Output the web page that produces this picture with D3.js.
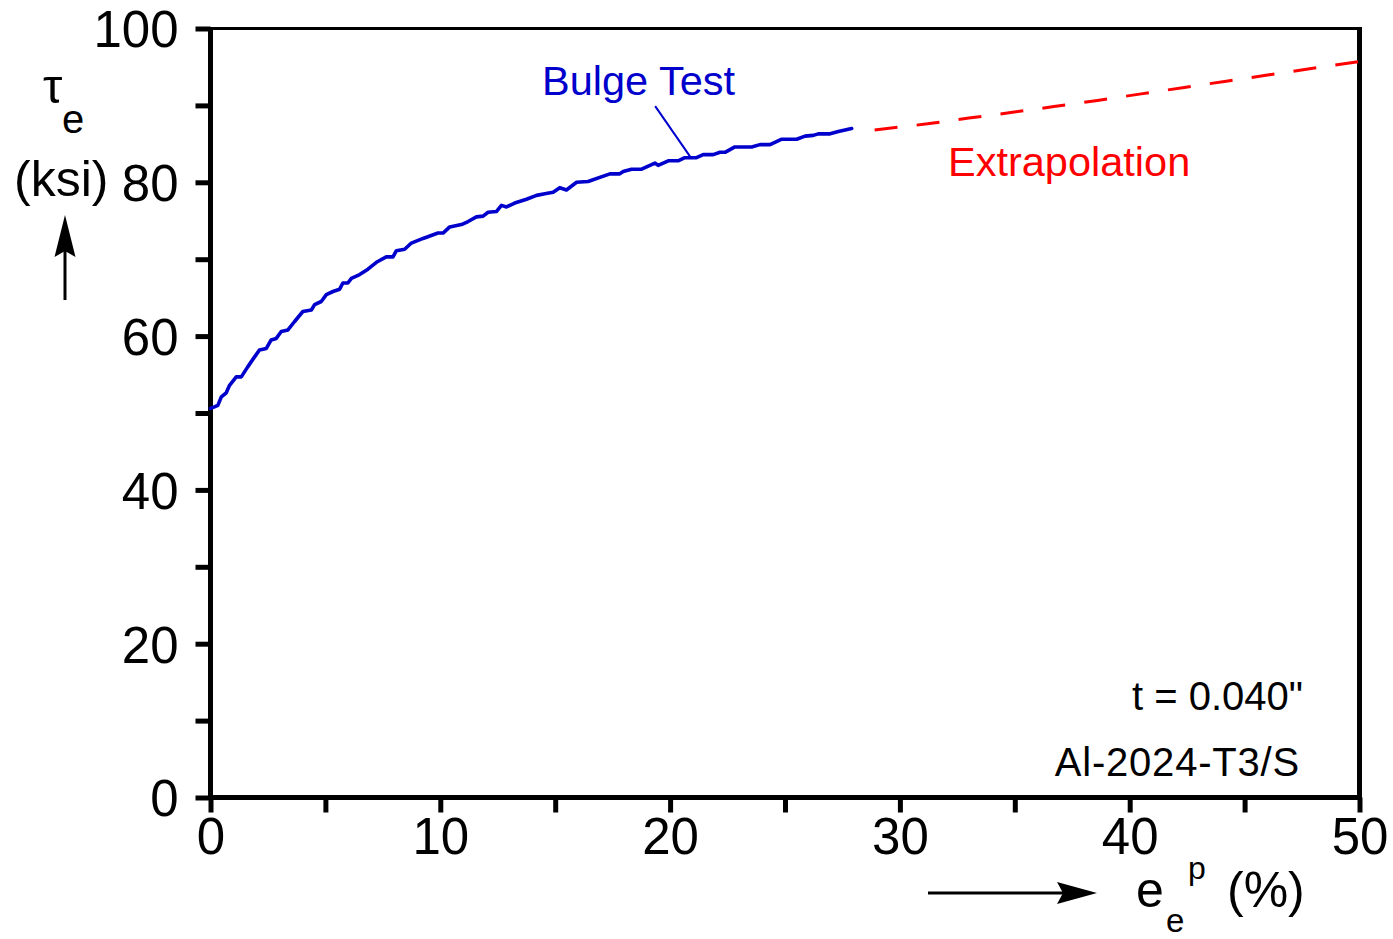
<!DOCTYPE html>
<html>
<head>
<meta charset="utf-8">
<script src="https://cdn.jsdelivr.net/npm/d3@7"></script>
<style>
  html, body { margin: 0; padding: 0; background: #fff; }
  svg { display: block; font-family: "Liberation Sans", Arial, sans-serif; }
</style>
</head>
<body>
<svg id="chart" width="1393" height="939"></svg>
<script>
// Effective plastic strain (%) vs effective stress (ksi), Al-2024-T3 bulge test
const bulgeStrain = [0, 0.17, 0.32, 0.47, 0.68, 0.83, 1.12, 1.34, 1.62, 1.92, 2.13, 2.43, 2.64, 2.86, 3.08, 3.37,
  3.66, 4.02, 4.39, 4.53, 4.82, 5.04, 5.33, 5.62, 5.76, 5.98, 6.13, 6.49, 6.85, 7.22, 7.65, 7.94, 8.09, 8.45,
  8.74, 9.25, 9.90, 10.12, 10.41, 10.92, 11.21, 11.57, 11.86, 12.08, 12.44, 12.66, 12.88, 13.24, 13.75, 14.19,
  14.55, 14.91, 15.20, 15.49, 15.93, 16.43, 17.38, 17.81, 17.96, 18.32, 18.76, 19.34, 19.48, 19.92, 20.35,
  20.64, 21.15, 21.44, 21.88, 22.17, 22.39, 22.82, 23.55, 23.91, 24.35, 24.86, 25.51, 25.87, 26.23, 26.45,
  26.96, 27.32, 27.61, 27.90];
const bulgeStress = [50.6, 50.8, 51.0, 52.1, 52.6, 53.6, 54.7, 54.7, 56.0, 57.3, 58.2, 58.4, 59.5, 59.7, 60.6, 60.8,
  61.9, 63.2, 63.4, 64.1, 64.5, 65.4, 65.8, 66.1, 66.9, 66.9, 67.5, 68.0, 68.7, 69.6, 70.3, 70.3, 71.1, 71.3,
  72.1, 72.7, 73.4, 73.4, 74.2, 74.5, 74.9, 75.5, 75.6, 76.1, 76.2, 77.0, 76.8, 77.3, 77.8, 78.3,
  78.5, 78.7, 79.3, 79.0, 80.0, 80.1, 81.1, 81.1, 81.4, 81.7, 81.7, 82.5, 82.2, 82.8, 82.8,
  83.2, 83.2, 83.6, 83.6, 83.9, 83.9, 84.6, 84.6, 84.9, 84.9, 85.6, 85.6, 86.0, 86.1, 86.3,
  86.3, 86.6, 86.8, 87.0];

// Extrapolated curve beyond the test range
const extraStrain = [28.9, 31.2, 33.0, 34.9, 36.7, 38.6, 40.5, 42.3, 44.2, 46.0, 47.9, 50.0];
const extraStress = [86.8, 87.6, 88.35, 89.1, 89.85, 90.65, 91.5, 92.3, 93.15, 93.95, 94.8, 95.7];

const xTicks = [0, 10, 20, 30, 40, 50];
const xMinorTicks = [5, 15, 25, 35, 45];
const yTicks = [0, 20, 40, 60, 80, 100];
const yMinorTicks = [10, 30, 50, 70, 90];

// Leader from the "Bulge Test" label to the curve
const leaderStrain = [19.35, 20.88];
const leaderStress = [89.9, 83.3];

const svg = d3.select("#chart");
const plotLeft = 210.5, plotRight = 1359.5, plotTop = 28.5, plotBottom = 797.5;

const x = d3.scaleLinear().domain([0, 50]).range([plotLeft, plotRight]);
const y = d3.scaleLinear().domain([0, 100]).range([plotBottom, plotTop]);

const blue = "#0000cc", red = "#ff0000";
const fontFamily = "Liberation Sans, Arial, sans-serif";

// Axes: ticks point outward, labels only on major ticks
const yAxis = d3.axisLeft(y)
  .tickValues(yTicks.concat(yMinorTicks))
  .tickFormat(d => yTicks.includes(d) ? d : "")
  .tickSizeInner(15).tickSizeOuter(0).tickPadding(17);
const gy = svg.append("g").attr("transform", `translate(${plotLeft},0)`).call(yAxis);
gy.select(".domain").remove();
gy.selectAll(".tick line").attr("stroke", "#000").attr("stroke-width", 5);
gy.selectAll(".tick text").attr("font-size", 51).attr("dy", "0.36em")
  .attr("font-family", fontFamily).attr("fill", "#000");

const xAxis = d3.axisBottom(x)
  .tickValues(xTicks.concat(xMinorTicks))
  .tickFormat(d => xTicks.includes(d) ? d : "")
  .tickSizeInner(15).tickSizeOuter(0).tickPadding(5);
const gx = svg.append("g").attr("transform", `translate(0,${plotBottom})`).call(xAxis);
gx.select(".domain").remove();
gx.selectAll(".tick line").attr("stroke", "#000").attr("stroke-width", 5);
gx.selectAll(".tick text").attr("font-size", 51)
  .attr("font-family", fontFamily).attr("fill", "#000");

// Plot frame
const frame = svg.append("g").attr("stroke", "#000").attr("fill", "none");
frame.append("line").attr("x1", plotLeft - 2.5).attr("x2", plotRight + 2.5).attr("y1", plotTop).attr("y2", plotTop).attr("stroke-width", 3);
frame.append("line").attr("x1", plotLeft).attr("x2", plotLeft).attr("y1", plotTop - 1.5).attr("y2", plotBottom + 2.5).attr("stroke-width", 5);
frame.append("line").attr("x1", plotRight).attr("x2", plotRight).attr("y1", plotTop - 1.5).attr("y2", plotBottom + 2.5).attr("stroke-width", 5);
frame.append("line").attr("x1", plotLeft - 2.5).attr("x2", plotRight + 2.5).attr("y1", plotBottom).attr("y2", plotBottom).attr("stroke-width", 5);

// Curves
const line = d3.line().x(d => x(d[0])).y(d => y(d[1]));
const bulge = bulgeStrain.map((s, i) => [s, bulgeStress[i]]);
const extra = extraStrain.map((s, i) => [s, extraStress[i]]);

svg.append("path").datum(extra)
  .attr("d", line).attr("fill", "none").attr("stroke", red)
  .attr("stroke-width", 3).attr("stroke-dasharray", "23 19.3");

svg.append("path").datum(bulge)
  .attr("d", line).attr("fill", "none").attr("stroke", blue)
  .attr("stroke-width", 3.6).attr("stroke-linejoin", "round").attr("stroke-linecap", "round");

svg.append("path").datum(leaderStrain.map((s, i) => [s, leaderStress[i]]))
  .attr("d", line).attr("fill", "none").attr("stroke", blue).attr("stroke-width", 2);

// Annotations
svg.append("text").attr("x", 542).attr("y", 95).attr("font-size", 41.5).attr("fill", blue).text("Bulge Test");
svg.append("text").attr("x", 948).attr("y", 176).attr("font-size", 41.5).attr("fill", red).text("Extrapolation");
svg.append("text").attr("x", 1303).attr("y", 710).attr("font-size", 40)
  .attr("text-anchor", "end").attr("fill", "#000").text("t = 0.040\"");
svg.append("text").attr("x", 1300).attr("y", 776).attr("font-size", 40).attr("letter-spacing", 0.8)
  .attr("text-anchor", "end").attr("fill", "#000").text("Al-2024-T3/S");

// Y axis title: tau_e (ksi) with upward arrow
svg.append("text").attr("x", 43).attr("y", 103).attr("font-size", 49).attr("fill", "#000").text("τ");
svg.append("text").attr("x", 62).attr("y", 133).attr("font-size", 40).attr("fill", "#000").text("e");
svg.append("text").attr("x", 14).attr("y", 196).attr("font-size", 50).attr("fill", "#000").text("(ksi)");
svg.append("line").attr("x1", 65).attr("x2", 65).attr("y1", 300).attr("y2", 245)
  .attr("stroke", "#000").attr("stroke-width", 3);
svg.append("path").attr("d", "M65,215 L75.5,257 L65,251 L54.5,257 Z").attr("fill", "#000");

// X axis title: e_e^p (%) with rightward arrow
svg.append("line").attr("x1", 928).attr("x2", 1070).attr("y1", 893).attr("y2", 893)
  .attr("stroke", "#000").attr("stroke-width", 3);
svg.append("path").attr("d", "M1097,893 L1057,882 L1063,893 L1057,904 Z").attr("fill", "#000");
svg.append("text").attr("x", 1136).attr("y", 907).attr("font-size", 50).attr("fill", "#000").text("e");
svg.append("text").attr("x", 1166).attr("y", 932).attr("font-size", 33).attr("fill", "#000").text("e");
svg.append("text").attr("x", 1188).attr("y", 879).attr("font-size", 32).attr("fill", "#000").text("p");
svg.append("text").attr("x", 1227).attr("y", 907).attr("font-size", 50).attr("fill", "#000").text("(%)");
</script>
</body>
</html>
